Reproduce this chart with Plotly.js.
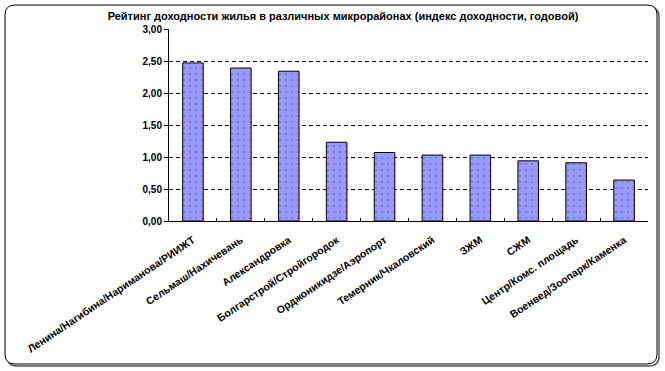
<!DOCTYPE html>
<html>
<head>
<meta charset="utf-8">
<script src="https://cdn.plot.ly/plotly-3.0.1.min.js"></script>
<style>html,body{margin:0;padding:0;background:#fff;}#chart{width:665px;height:371px;}</style>
</head>
<body>
<div id="chart"></div>
<script>
var districts = [
  "Ленина/Нагибина/Нариманова/РИИЖТ",
  "Сельмаш/Нахичевань",
  "Александровка",
  "Болгарстрой/Стройгородок",
  "Орджоникидзе/Аэропорт",
  "Темерник/Чкаловский",
  "ЗЖМ",
  "СЖМ",
  "Центр/Комс. площадь",
  "Военвед/Зоопарк/Каменка"
];
var yieldIndex = [2.47, 2.39, 2.34, 1.23, 1.07, 1.03, 1.03, 0.94, 0.91, 0.64];
var yTicks = [0, 0.5, 1, 1.5, 2, 2.5, 3];
var gridTicks = [0.5, 1, 1.5, 2, 2.5];
var chartTitle = "Рейтинг доходности жилья в различных микрорайонах (индекс доходности, годовой)";

var W = 665, H = 371;
var M = {l: 169, r: 17, t: 29, b: 150};
var pw = W - M.l - M.r, ph = H - M.t - M.b;
function px(x){ return (x - M.l) / pw; }
function py(y){ return (H - M.b - y) / ph; }
function roundRect(x0, y0, x1, y1, r){
  return 'M' + px(x0 + r) + ',' + py(y0) +
    ' L' + px(x1 - r) + ',' + py(y0) +
    ' Q' + px(x1) + ',' + py(y0) + ' ' + px(x1) + ',' + py(y0 + r) +
    ' L' + px(x1) + ',' + py(y1 - r) +
    ' Q' + px(x1) + ',' + py(y1) + ' ' + px(x1 - r) + ',' + py(y1) +
    ' L' + px(x0 + r) + ',' + py(y1) +
    ' Q' + px(x0) + ',' + py(y1) + ' ' + px(x0) + ',' + py(y1 - r) +
    ' L' + px(x0) + ',' + py(y0 + r) +
    ' Q' + px(x0) + ',' + py(y0) + ' ' + px(x0 + r) + ',' + py(y0) + ' Z';
}

var FONT = "Liberation Sans, Arial, sans-serif";

// empty helper trace on the base subplot, which carries the dashed grid
var gridHolder = {type: 'scatter', x: [], y: [], yaxis: 'y', hoverinfo: 'skip', showlegend: false};

var bars = {
  type: 'bar',
  x: districts,
  y: yieldIndex,
  yaxis: 'y2',
  marker: {
    color: '#9999ff',
    line: {color: '#000', width: 1},
    pattern: {shape: '.', fgcolor: '#7070dd', bgcolor: '#9999ff', size: 6, solidity: 0.1}
  },
  hoverinfo: 'x+y'
};

var layout = {
  width: W, height: H,
  margin: M,
  paper_bgcolor: '#fff',
  plot_bgcolor: 'rgba(0,0,0,0)',
  separators: ', ',
  showlegend: false,
  bargap: 0.57,
  font: {family: FONT, color: '#000', size: 9},
  title: {
    text: chartTitle,
    font: {family: FONT, size: 11, weight: 'bold', color: '#000'},
    xref: 'container', yref: 'container',
    x: 343 / W, xanchor: 'center',
    y: 1 - 16 / H, yanchor: 'middle'
  },
  xaxis: {
    type: 'category',
    categoryorder: 'array', categoryarray: districts,
    showline: true, linecolor: '#000', linewidth: 1,
    ticks: 'inside', tickson: 'boundaries', ticklen: 3, tickcolor: '#000', tickwidth: 1,
    tickangle: -34,
    ticklabelstandoff: 8,
    tickfont: {family: FONT, size: 10.5, weight: 'bold', color: '#000'},
    showgrid: false, zeroline: false
  },
  yaxis: {
    range: [0, 3],
    tickvals: gridTicks,
    showticklabels: false,
    ticks: '',
    showgrid: true, gridcolor: '#000', gridwidth: 1, griddash: '4px,3px',
    showline: false, zeroline: false
  },
  yaxis2: {
    overlaying: 'y',
    side: 'left',
    range: [0, 3],
    tickvals: yTicks,
    tickformat: '.2f',
    showline: true, linecolor: '#000', linewidth: 1,
    ticks: 'outside', ticklen: 4, tickcolor: '#000', tickwidth: 1,
    tickfont: {family: FONT, size: 10, weight: 'bold', color: '#000'},
    showgrid: false, zeroline: false
  },
  shapes: [
    {type: 'line', xref: 'paper', yref: 'paper', x0: 0, x1: 1, y0: 1, y1: 1,
     line: {color: '#808080', width: 1, dash: 'dot'}, layer: 'below'},
    {type: 'line', xref: 'paper', yref: 'paper', x0: 1, x1: 1, y0: 0, y1: 1,
     line: {color: '#808080', width: 1, dash: 'dot'}, layer: 'below'},
    {type: 'path', xref: 'paper', yref: 'paper', path: roundRect(7, 7, 659, 366, 10),
     line: {color: '#555', width: 1.5}, layer: 'below'},
    {type: 'path', xref: 'paper', yref: 'paper', path: roundRect(5, 5, 657, 364, 10),
     line: {color: '#000', width: 1}, layer: 'below', fillcolor: '#fff'}
  ]
};

Plotly.newPlot('chart', [gridHolder, bars], layout, {displayModeBar: false, staticPlot: true});
</script>
</body>
</html>
